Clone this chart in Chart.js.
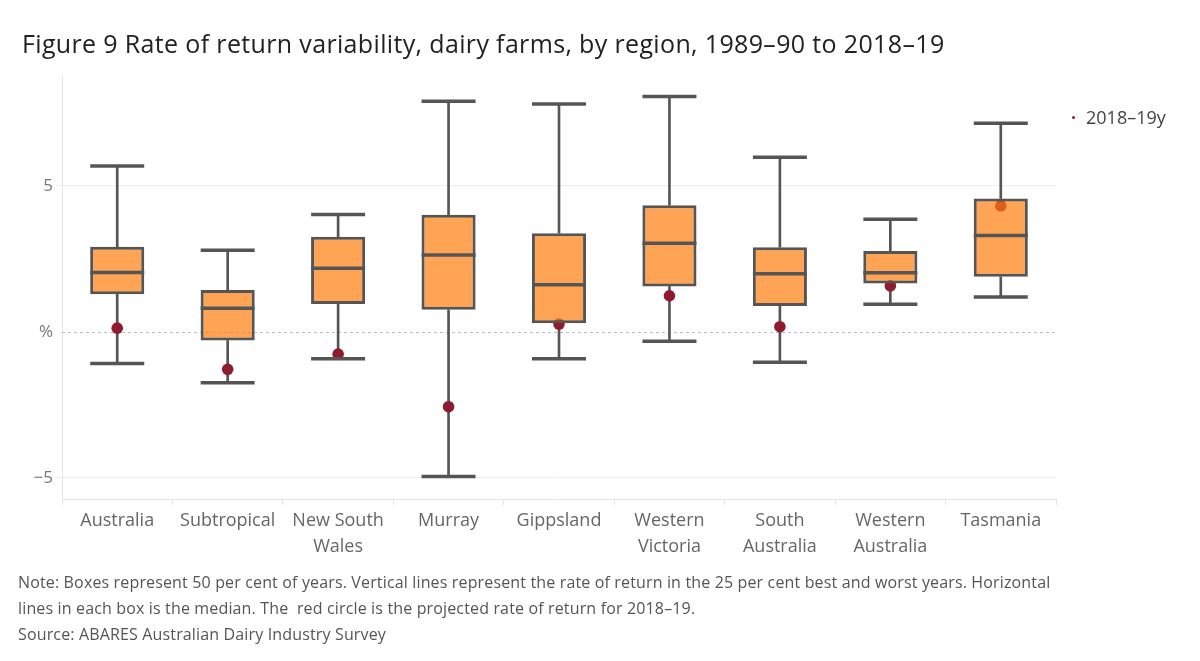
<!DOCTYPE html>
<html>
<head>
<meta charset="utf-8">
<script src="https://cdn.jsdelivr.net/npm/chart.js@4"></script>
<style>
  html, body { margin: 0; padding: 0; background: #fff; }
  #wrap { position: relative; width: 1200px; height: 661px; overflow: hidden; font-family: "Open Sans", sans-serif; }
  #c { position: absolute; left: 0; top: 0; }
  #title { position: absolute; left: 22px; top: 28px; font-size: 25px; letter-spacing: 0.35px; line-height: 30px; color: #222; white-space: nowrap; }
  #legend { position: absolute; left: 1072px; top: 104px; font-size: 18px; line-height: 26px; color: #444; white-space: nowrap; }
  #legend .dot { display: inline-block; width: 3px; height: 3px; border-radius: 50%; background: #8e1b30; vertical-align: middle; margin-right: 11px; position: relative; top: -2px; }
  #note { position: absolute; left: 18px; top: 569px; font-size: 16px; letter-spacing: 0.15px; line-height: 26px; color: #555; white-space: nowrap; }
</style>
</head>
<body>
<div id="wrap">
  <canvas id="c" width="1200" height="661"></canvas>
  <div id="title">Figure 9 Rate of return variability, dairy farms, by region, 1989–90 to 2018–19</div>
  <div id="legend"><span class="dot"></span>2018–19y</div>
  <div id="note">Note: Boxes represent 50 per cent of years. Vertical lines represent the rate of return in the 25 per cent best and worst years. Horizontal<br>lines in each box is the median. The&nbsp; red circle is the projected rate of return for 2018–19.<br>Source: ABARES Australian Dairy Industry Survey</div>
</div>
<script>
const categories = ['Australia', 'Subtropical', ['New South', 'Wales'], 'Murray', 'Gippsland', ['Western', 'Victoria'], ['South', 'Australia'], ['Western', 'Australia'], 'Tasmania'];
const whiskerLow  = [-1.08, -1.74, -0.92, -4.95, -0.92, -0.32, -1.04, 0.95, 1.20];
const q1          = [1.29, -0.29, 0.96, 0.76, 0.30, 1.56, 0.89, 1.66, 1.89];
const median      = [2.04, 0.81, 2.18, 2.64, 1.62, 3.04, 1.99, 2.03, 3.30];
const q3          = [2.92, 1.44, 3.26, 4.01, 3.38, 4.34, 2.90, 2.77, 4.57];
const whiskerHigh = [5.68, 2.80, 4.02, 7.90, 7.81, 8.06, 5.98, 3.86, 7.15];
const projected   = [0.13, -1.28, -0.76, -2.56, 0.27, 1.24, 0.18, 1.58, 4.32];
const yTicks = [-5, 0, 5];
const yTickLabels = ['−5', '%', '5'];

const GREY = '#555555';
const FONT = '"Open Sans", sans-serif';

const zeroLine = {
  id: 'zeroLine',
  beforeDatasetsDraw(chart) {
    const { ctx, chartArea, scales } = chart;
    const y = Math.round(scales.y.getPixelForValue(0)) + 0.5;
    ctx.save();
    ctx.strokeStyle = '#bdbdbd';
    ctx.lineWidth = 1;
    ctx.setLineDash([3, 3]);
    ctx.beginPath();
    ctx.moveTo(chartArea.left, y);
    ctx.lineTo(chartArea.right, y);
    ctx.stroke();
    ctx.restore();
  }
};

const whiskerBar = {
  type: 'bar', grouped: false, barThickness: 2,
  backgroundColor: GREY, borderWidth: 0
};
const capLine = {
  type: 'line', showLine: false, pointStyle: 'line', pointRadius: 27, pointHoverRadius: 27,
  pointBorderColor: GREY, pointBorderWidth: 3.5, pointBackgroundColor: GREY
};

new Chart(document.getElementById('c'), {
  data: {
    labels: categories,
    datasets: [
      Object.assign({ label: 'lower whisker', order: 5, data: whiskerLow.map((v, i) => [v, q1[i]]) }, whiskerBar),
      Object.assign({ label: 'upper whisker', order: 5, data: whiskerHigh.map((v, i) => [q3[i], v]) }, whiskerBar),
      {
        type: 'line', label: '2018–19y', order: 4, data: projected, showLine: false,
        pointRadius: 5.8, pointHoverRadius: 5.8, pointBackgroundColor: '#8e1b30', pointBorderWidth: 0
      },
      {
        type: 'bar', label: 'box', order: 3, grouped: false,
        data: q1.map((v, i) => [v, q3[i]]),
        backgroundColor: 'rgba(255,126,12,0.7)', borderColor: GREY, borderWidth: 3,
        borderSkipped: false, categoryPercentage: 1, barPercentage: 0.49
      },
      Object.assign({ label: 'median', order: 1, data: median }, capLine),
      Object.assign({ label: 'max', order: 1, data: whiskerHigh }, capLine),
      Object.assign({ label: 'min', order: 1, data: whiskerLow }, capLine)
    ]
  },
  options: {
    responsive: false,
    animation: false,
    events: [],
    layout: { padding: { top: 75, left: 10, right: 144, bottom: 102 } },
    plugins: { legend: { display: false }, tooltip: { enabled: false } },
    scales: {
      x: {
        type: 'category',
        offset: true,
        afterFit(s) { s.height = 60; },
        grid: { offset: true, drawOnChartArea: false, drawTicks: true, tickLength: 6, color: '#e4e4e4' },
        border: { display: true, color: '#e4e4e4' },
        ticks: { color: '#666', padding: 3, font: { family: FONT, size: 18, lineHeight: 1.45 }, maxRotation: 0, autoSkip: false }
      },
      y: {
        min: -5.72, max: 8.8,
        afterFit(s) { s.width = 52; },
        afterBuildTicks(s) { s.ticks = yTicks.map(v => ({ value: v })); },
        grid: {
          color: c => (c.tick && c.tick.value === 0) ? 'rgba(0,0,0,0)' : '#ececec',
          tickLength: 6, drawTicks: true
        },
        border: { display: true, color: '#e6e6e6' },
        ticks: {
          color: '#777', padding: 3, font: { family: FONT, size: 17 },
          callback: v => yTickLabels[yTicks.indexOf(v)]
        }
      }
    }
  },
  plugins: [zeroLine]
});
</script>
</body>
</html>
